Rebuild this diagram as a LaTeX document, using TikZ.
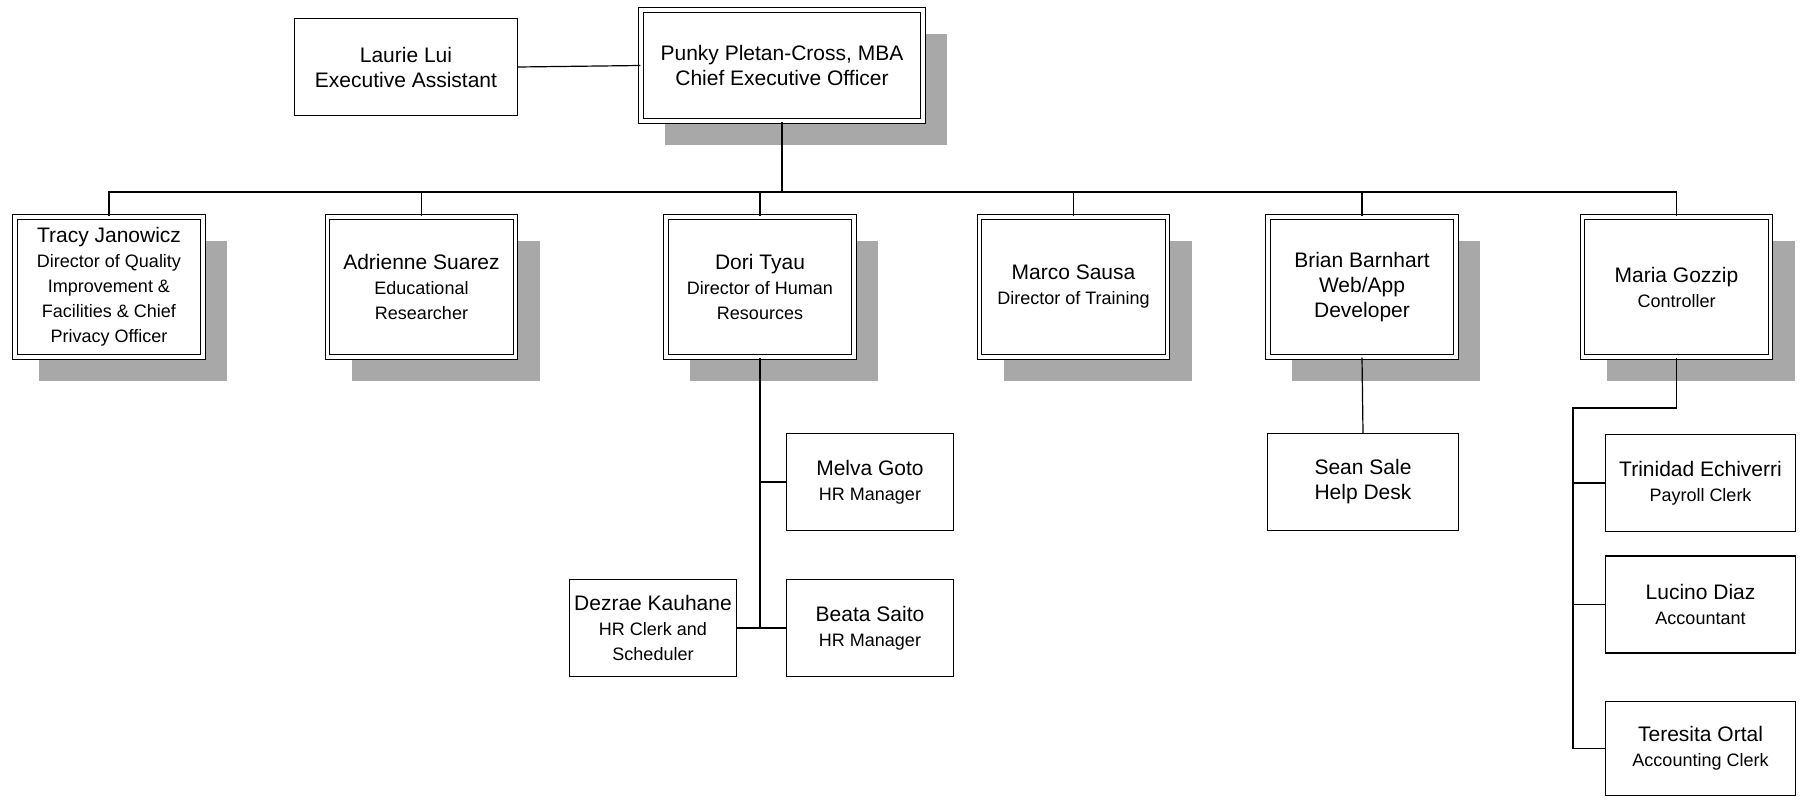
\documentclass[tikz,border=0pt]{standalone}
\usepackage{fontspec}
\setmainfont{Liberation Sans}
\usetikzlibrary{positioning,shadows}
\definecolor{stipple}{gray}{0.66}
\newcommand{\nameline}{\fontsize{21}{25}\selectfont}
\newcommand{\titleline}{\fontsize{18}{22}\selectfont}

\tikzset{
  staff/.style={draw, line width=1.3pt, fill=white, align=center, inner sep=1pt, font=\nameline},
  chief/.style={staff, line width=1.1pt, double=white, double distance=3.5pt,
    general shadow={shadow xshift=24pt, shadow yshift=-24pt, fill=stipple, draw=none}},
  director/.style={chief, minimum width=188pt, minimum height=140pt},
  clerk/.style={staff, minimum width=167pt, minimum height=97pt},
  wire/.style={line width=1.2pt}
}

\begin{document}
\begin{tikzpicture}[x=1pt,y=-1pt]
\useasboundingbox (0,0) rectangle (1802,800);

\node[chief, minimum width=282pt, minimum height=111pt] (ceo) at (782,65.5) {Punky Pletan-Cross, MBA\\Chief Executive Officer};
\node[staff, minimum width=223pt, minimum height=97pt] (laurie) at (406,67) {Laurie Lui\\Executive Assistant};

\node[director] (tracy) at (109,287) {Tracy Janowicz\\\titleline Director of Quality\\\titleline Improvement \&\\\titleline Facilities \& Chief\\\titleline Privacy Officer};
\node[director] (adrienne) at (421.5,287) {Adrienne Suarez\\\titleline Educational\\\titleline Researcher};
\node[director] (dori) at (760,287) {Dori Tyau\\\titleline Director of Human\\\titleline Resources};
\node[director] (marco) at (1073.5,287) {Marco Sausa\\\titleline Director of Training};
\node[director] (brian) at (1362,287) {Brian Barnhart\\Web/App\\Developer};
\node[director] (maria) at (1676.5,287) {Maria Gozzip\\\titleline Controller};

\node[clerk] (melva) at (870,482) {Melva Goto\\\titleline HR Manager};
\node[clerk] (beata) at (870,628) {Beata Saito\\\titleline HR Manager};
\node[clerk] (dezrae) at (653,628) {Dezrae Kauhane\\\titleline HR Clerk and\\\titleline Scheduler};
\node[clerk, minimum width=191pt] (sean) at (1363,482) {Sean Sale\\Help Desk};
\node[clerk, minimum width=190pt] (trinidad) at (1700.5,483) {Trinidad Echiverri\\\titleline Payroll Clerk};
\node[clerk, minimum width=190pt] (lucino) at (1700.5,604.5) {Lucino Diaz\\\titleline Accountant};
\node[clerk, minimum width=190pt, minimum height=94pt] (teresita) at (1700.5,748.5) {Teresita Ortal\\\titleline Accounting Clerk};

\coordinate (bus) at (0,192);
\coordinate (acct) at (1573,408);

\draw[wire] (laurie.east) -- (ceo.west);
\draw[wire] (ceo.south) -- (ceo.south |- bus);
\draw[wire] (tracy.north) -- (tracy.north |- bus) -- (maria.north |- bus) -- (maria.north);
\foreach \d in {adrienne,dori,marco,brian}
  \draw[wire] (\d.north) -- (\d.north |- bus);

\draw[wire] (dori.south) -- (dori.south |- beata.west);
\draw[wire] (dori.south |- melva.west) -- (melva.west);
\draw[wire] (dezrae.east) -- (beata.west);

\draw[wire] (brian.south) -- (sean.north);

\draw[wire] (maria.south) |- (acct) -- (acct |- teresita.west) -- (teresita.west);
\foreach \c in {trinidad,lucino}
  \draw[wire] (acct |- \c.west) -- (\c.west);
\end{tikzpicture}
\end{document}
